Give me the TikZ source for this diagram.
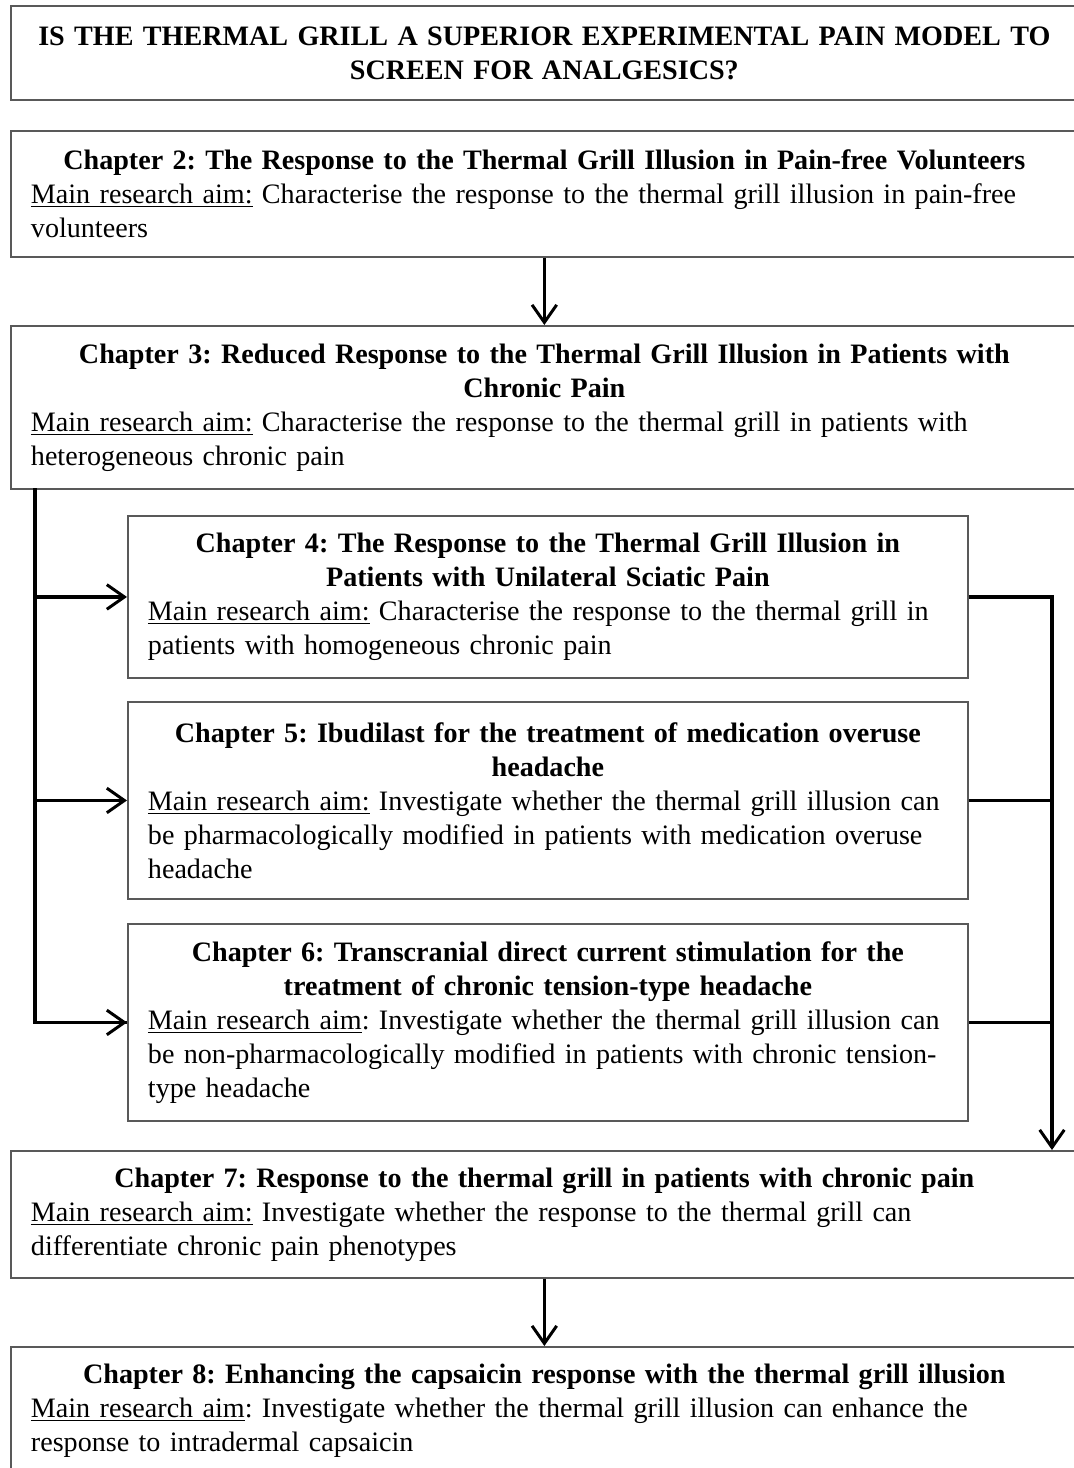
\documentclass[tikz,border=0pt]{standalone}
\usepackage{fontspec}
\setmainfont{Liberation Serif}
\usetikzlibrary{positioning,arrows.meta}
\frenchspacing

\begin{document}
\begin{tikzpicture}[x=0.02cm, y=-0.02cm,
  chapter/.style={draw=black!65, line width=1.1pt, anchor=north west, minimum width=21.34cm, inner xsep=0.4cm, inner ysep=0pt, text width=20.54cm, align=left, font=\fontsize{16}{19.3}\selectfont},
  inner/.style={chapter, minimum width=16.8cm, text width=16cm},
  link/.style={line width=1.8pt},
  arrow/.style={link, -{Straight Barb[length=10pt, width=14pt, line width=1.7pt]}}
]
  \useasboundingbox (0,0) rectangle (1074,1468);
  \clip (0,0) rectangle (1074,1468);
  \fill[white] (0,0) rectangle (1074,1468);

  \node[chapter, minimum height=1.88cm, align=center] (question) at (10,5)
    {\bfseries IS THE THERMAL GRILL A SUPERIOR EXPERIMENTAL PAIN MODEL TO\\ SCREEN FOR ANALGESICS?};

  \node[chapter, minimum height=2.52cm] (ch2) at (10,130)
    {{\centering\bfseries Chapter 2: The Response to the Thermal Grill Illusion in Pain-free Volunteers\par}
     \underline{Main research aim:} Characterise the response to the thermal grill illusion in pain-free\\ volunteers};

  \node[chapter, minimum height=3.26cm] (ch3) at (10,325)
    {{\centering\bfseries Chapter 3: Reduced Response to the Thermal Grill Illusion in Patients with\\ Chronic Pain\par}
     \underline{Main research aim:} Characterise the response to the thermal grill in patients with\\ heterogeneous chronic pain};

  \node[inner, minimum height=3.24cm] (ch4) at (127,515)
    {{\centering\bfseries Chapter 4: The Response to the Thermal Grill Illusion in\\ Patients with Unilateral Sciatic Pain\par}
     \underline{Main research aim:} Characterise the response to the thermal grill in\\ patients with homogeneous chronic pain};

  \node[inner, minimum height=3.94cm] (ch5) at (127,701)
    {{\centering\bfseries Chapter 5: Ibudilast for the treatment of medication overuse\\ headache\par}
     \underline{Main research aim:} Investigate whether the thermal grill illusion can\\ be pharmacologically modified in patients with medication overuse\\ headache};

  \node[inner, minimum height=3.94cm] (ch6) at (127,923)
    {{\centering\bfseries Chapter 6: Transcranial direct current stimulation for the\\ treatment of chronic tension-type headache\par}
     \underline{Main research aim}: Investigate whether the thermal grill illusion can\\ be non-pharmacologically modified in patients with chronic tension-\\ type headache};

  \node[chapter, minimum height=2.54cm] (ch7) at (10,1150)
    {{\centering\bfseries Chapter 7: Response to the thermal grill in patients with chronic pain\par}
     \underline{Main research aim:} Investigate whether the response to the thermal grill can\\ differentiate chronic pain phenotypes};

  \node[chapter, minimum height=2.56cm] (ch8) at (10,1346)
    {{\centering\bfseries Chapter 8: Enhancing the capsaicin response with the thermal grill illusion\par}
     \underline{Main research aim}: Investigate whether the thermal grill illusion can enhance the\\ response to intradermal capsaicin};

  \coordinate (ltop) at (35,488);
  \coordinate (rbot) at (1052,1150);

  \draw[arrow] (ch2.south) -- (ch3.north);
  \draw[link] (ltop) |- (ch6.west);
  \draw[arrow] (ltop |- ch4.west) -- (ch4.west);
  \draw[arrow] (ltop |- ch5.west) -- (ch5.west);
  \draw[arrow] (ltop |- ch6.west) -- (ch6.west);
  \draw[arrow] (ch4.east) -| (rbot);
  \draw[link] (ch5.east) -- (ch5.east -| rbot);
  \draw[link] (ch6.east) -- (ch6.east -| rbot);
  \draw[arrow] (ch7.south) -- (ch8.north);
\end{tikzpicture}
\end{document}
